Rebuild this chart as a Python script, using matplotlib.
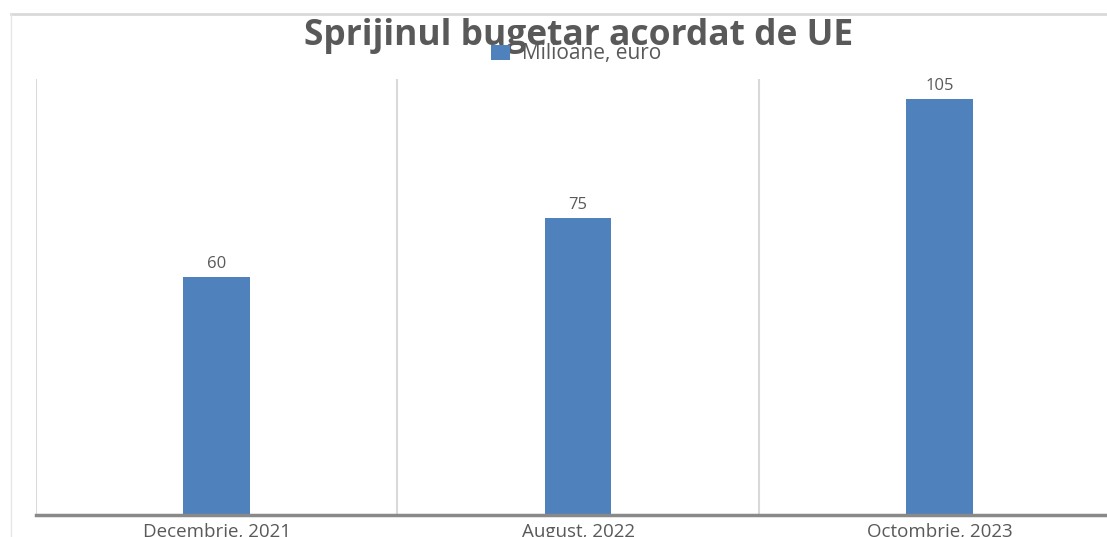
import matplotlib.pyplot as plt
from matplotlib.lines import Line2D

categories = ["Decembrie, 2021", "August, 2022", "Octombrie, 2023"]
values = [60, 75, 105]
series_name = "Milioane, euro"
title = "Sprijinul bugetar acordat de UE"

plt.rcParams["font.family"] = ["Open Sans", "DejaVu Sans"]

fig = plt.figure(figsize=(11.07, 5.37), dpi=100)
ax = fig.add_axes([36/1107, 1 - 515/537, 1 - 36/1107, (515 - 79)/537])

xs = list(range(len(categories)))
bars = ax.bar(xs, values, width=0.185, color="#4f81bd", label=series_name, zorder=3)

for x, v in zip(xs, values):
    ax.text(x, v + 2.3, str(v), ha="center", va="baseline", fontsize=12, color="#595959")

ax.set_xlim(-0.5, 2.464)
ax.set_ylim(0, 110)

# category separators
for b in [-0.5, 0.5, 1.5]:
    ax.axvline(b, color="#d9d9d9", linewidth=1.5, zorder=1)

for s in ["top", "right", "left"]:
    ax.spines[s].set_visible(False)
ax.spines["bottom"].set_color("#898989")
ax.spines["bottom"].set_linewidth(2.5)
ax.spines["bottom"].set_zorder(4)

ax.set_yticks([])
ax.set_xticks(xs)
ax.set_xticklabels(categories, fontsize=13.5, color="#595959")
ax.tick_params(axis="x", length=0, pad=6)

fig.text(578.5/1107, 1 - 45/537, title, ha="center", va="baseline",
         fontsize=25.5, fontweight="bold", color="#595959")

fig.legend(handles=[bars], labels=[series_name], loc="center",
           bbox_to_anchor=(576.5/1107, 1 - 54/537), frameon=False,
           fontsize=15, labelcolor="#595959", handlelength=0.9,
           handleheight=0.75, handletextpad=0.6)

# chart frame lines
fig.add_artist(Line2D([11/1107, 1], [1 - 14/537, 1 - 14/537], color="#d9d9d9", linewidth=2))
fig.add_artist(Line2D([11/1107, 11/1107], [0, 1 - 14/537], color="#e6e6e6", linewidth=1))

fig.savefig("out.png", dpi=100)
